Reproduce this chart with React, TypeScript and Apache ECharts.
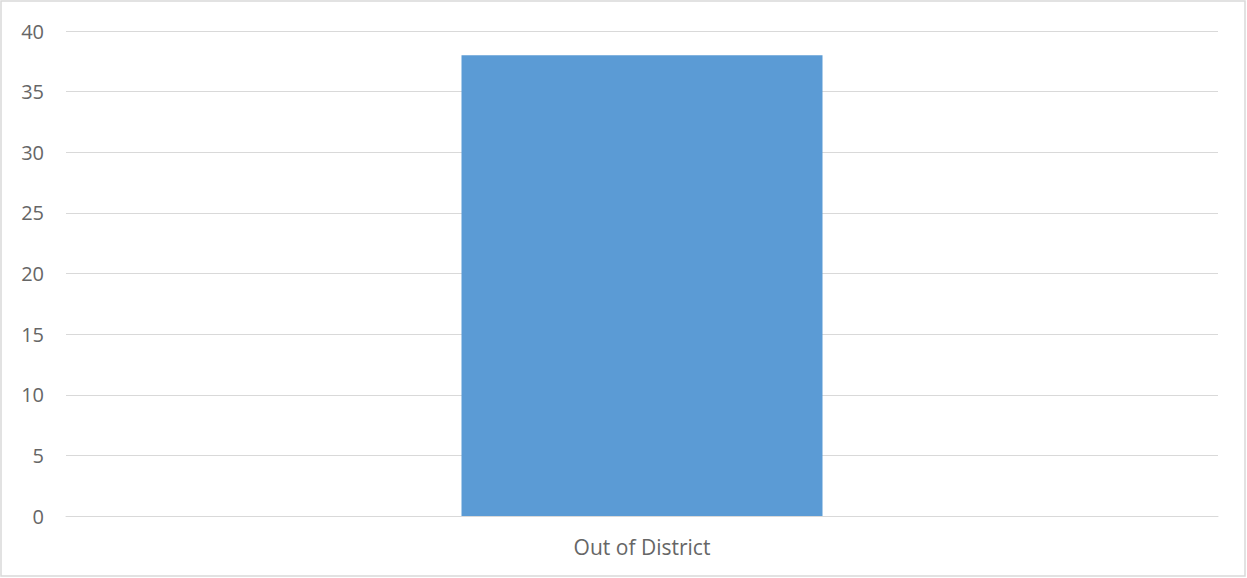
import React, { useEffect, useRef } from "react";
import * as echarts from "echarts";

const categories = ["Out of District"];
const values = [38];
const yTicks = [0, 5, 10, 15, 20, 25, 30, 35, 40];

export default function App() {
  const ref = useRef<HTMLDivElement>(null);
  useEffect(() => {
    document.body.style.margin = "0";
    const chart = echarts.init(ref.current!, null, { renderer: "svg" });
    chart.setOption({
      animation: false,
      backgroundColor: "#ffffff",
      graphic: [
        {
          type: "rect",
          shape: { x: 1, y: 1, width: 1244, height: 575 },
          style: { fill: "none", stroke: "#d9d9d9", lineWidth: 1.5 },
          silent: true,
        },
      ],
      grid: { left: 66, right: 29, top: 31, bottom: 62, containLabel: false },
      xAxis: {
        type: "category",
        data: categories,
        axisLine: { show: true, lineStyle: { color: "#d9d9d9", width: 1 } },
        axisTick: { show: false },
        axisLabel: {
          color: "#666666",
          fontSize: 21,
          fontFamily: "Open Sans, Noto Sans, sans-serif",
          margin: 20,
        },
      },
      yAxis: {
        type: "value",
        min: yTicks[0],
        max: yTicks[yTicks.length - 1],
        interval: 5,
        axisLine: { show: false },
        axisTick: { show: false },
        splitLine: { lineStyle: { color: "#d9d9d9", width: 1 } },
        axisLabel: {
          color: "#666666",
          fontSize: 20,
          fontFamily: "Open Sans, Noto Sans, sans-serif",
          margin: 22,
        },
      },
      series: [
        {
          type: "bar",
          data: values,
          barWidth: 361,
          itemStyle: { color: "#5b9bd5" },
        },
      ],
    });
    return () => chart.dispose();
  }, []);
  return <div ref={ref} style={{ width: 1247, height: 578 }} />;
}
